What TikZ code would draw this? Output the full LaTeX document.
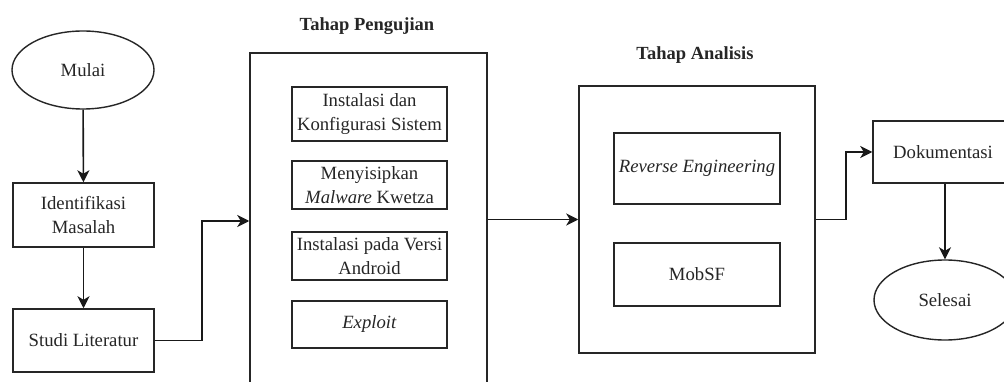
\documentclass[tikz,border=0pt]{standalone}
\usepackage{fontspec}
\setmainfont{Liberation Serif}
\usetikzlibrary{shapes.geometric,arrows.meta}
\begin{document}
\begin{tikzpicture}[x=1pt,y=-1pt,
  every node/.style={font=\fontsize{18.7}{24}\selectfont, text=black!85, align=center, inner sep=0pt},
  box/.style={draw=black!85, line width=1.5pt, rectangle},
  oval/.style={draw=black!85, line width=1.4pt, ellipse},
  title/.style={font=\fontsize{18.5}{22}\selectfont\bfseries},
  arr/.style={draw=black!90, line width=1.6pt, -{Stealth[length=12pt,width=12pt,inset=3.5pt]}},
  ln/.style={line width=1.5pt}]
\useasboundingbox (0,0) rectangle (1004,382);
\clip (0,0) rectangle (1004,382);
\fill[white] (0,0) rectangle (1004,382);
% left column
\node[oval, minimum width=142pt, minimum height=78pt] (mulai) at (83,70) {Mulai};
\node[box, minimum width=141pt, minimum height=64pt] (ident) at (83.5,215) {Identifikasi\\Masalah};
\node[box, minimum width=141pt, minimum height=63pt] (studi) at (83.5,340.5) {Studi Literatur};
% Tahap Pengujian
\node[title] (tpeng) at (367,26) {Tahap Pengujian};
\node[box, minimum width=237pt, minimum height=336pt] (peng) at (368.5,221) {};
\node[box, minimum width=155pt, minimum height=54pt] (b1) at (369.5,114) {Instalasi dan\\Konfigurasi Sistem};
\node[box, minimum width=155pt, minimum height=48pt] (b2) at (369.5,185) {Menyisipkan\\\textit{Malware} Kwetza};
\node[box, minimum width=155pt, minimum height=48pt] (b3) at (369.5,256) {Instalasi pada Versi\\Android};
\node[box, minimum width=155pt, minimum height=47pt] (b4) at (369.5,324.5) {\textit{Exploit}};
% Tahap Analisis
\node[title] (tanal) at (695,55) {Tahap Analisis};
\node[box, minimum width=236pt, minimum height=267pt] (anal) at (697,219.5) {};
\node[box, minimum width=166pt, minimum height=71pt] (rev) at (697,168.5) {\textit{Reverse Engineering}};
\node[box, minimum width=166pt, minimum height=63pt] (mob) at (697,274.5) {MobSF};
% right column
\node[box, minimum width=140pt, minimum height=62pt] (dok) at (943,152) {Dokumentasi};
\node[oval, minimum width=142pt, minimum height=80pt] (sel) at (945,300) {Selesai};
% connectors
\draw[arr] (mulai) -- (ident);
\draw[arr] (ident) -- (studi);
\coordinate (c1) at (202,221);
\draw[arr] (studi.east) -| (c1) -- (peng.west);
\draw[arr] (peng.east |- anal.west) -- (anal.west);
\coordinate (c2) at (846,152);
\draw[arr] (anal.east) -| (c2) -- (dok.west);
\draw[arr] (dok.south -| sel.north) -- (sel.north);
\end{tikzpicture}
\end{document}
